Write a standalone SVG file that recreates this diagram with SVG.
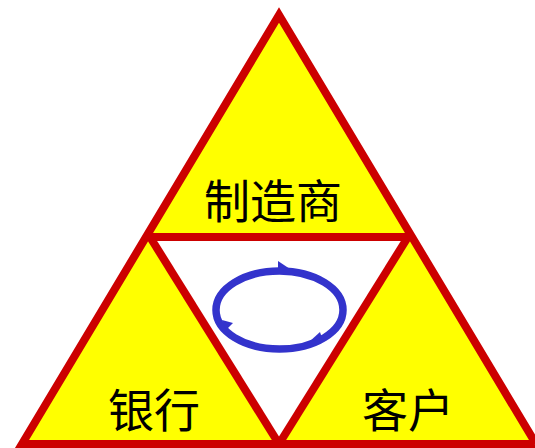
<svg xmlns="http://www.w3.org/2000/svg" width="535" height="448" viewBox="0 0 535 448">
<style>
.lbl{font-family:"Noto Sans CJK SC","Noto Sans",sans-serif;font-size:46px;fill:#000;text-anchor:middle}
.red{stroke:#cc0000;stroke-width:8;fill:none}
</style>
<rect width="535" height="448" fill="#fff"/>
<g id="outer">
<polygon points="279,15 22,444 536,444" fill="#ffff00"/>
<polygon points="150,237 408,237 279,444" fill="#fff"/>
</g>
<g id="connectors">
<line class="red" x1="148" y1="237" x2="410" y2="237"/>
<line class="red" x1="150" y1="237" x2="279" y2="444"/>
<line class="red" x1="408" y1="237" x2="279" y2="444"/>
<polygon class="red" points="279,15 22,444 536,444" stroke-linejoin="miter"/>
</g>
<g id="cycle">
<ellipse cx="279.5" cy="310" rx="63.5" ry="39" fill="none" stroke="#3333cc" stroke-width="7.5"/>
<polygon points="290,269 278,261 278,269" fill="#3333cc"/>
<polygon points="309,342 320,332 322,338" fill="#3333cc"/>
<polygon points="222,320 233,323 226,330" fill="#3333cc"/>
</g>
<g id="manufacturer"><text class="lbl" x="273" y="218">制造商</text></g>
<g id="bank"><text class="lbl" x="154" y="427">银行</text></g>
<g id="customer"><text class="lbl" x="408" y="427">客户</text></g>
</svg>
